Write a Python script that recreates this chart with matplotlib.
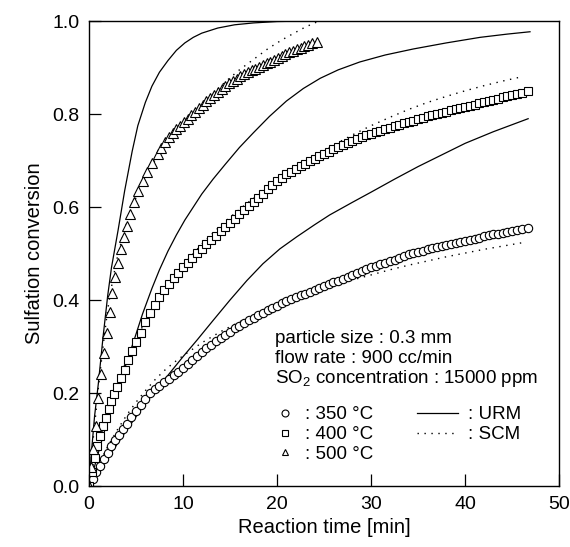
import matplotlib
matplotlib.use("Agg")
from matplotlib import pyplot as plt
from matplotlib.lines import Line2D

plt.rcParams['font.family'] = ['Liberation Sans', 'DejaVu Sans']
plt.rcParams['mathtext.fontset'] = 'custom'
plt.rcParams['mathtext.rm'] = 'Liberation Sans'

t_350 = [0, 0.4, 0.8, 1.2, 1.6, 2.0, 2.4, 2.8, 3.2, 3.6, 4.0, 4.5, 5.0, 5.5, 6.0, 6.5,
         7.0, 7.5, 8.0, 8.5, 9.0, 9.5, 10.0, 10.5, 11.0, 11.5, 12.0, 12.5, 13.0, 13.5,
         14.0, 14.5, 15.0, 15.5, 16.0, 16.5, 17.0, 17.5, 18.0, 18.5, 19.0, 19.5, 20.0,
         20.5, 21.0, 21.5, 22.0, 22.5, 23.0, 23.5, 24.0, 24.5, 25.0, 25.5, 26.0, 26.5,
         27.0, 27.5, 28.0, 28.5, 29.0, 29.5, 30.0, 30.5, 31.0, 31.5, 32.0, 32.5, 33.0,
         33.5, 34.0, 34.5, 35.0, 35.5, 36.0, 36.5, 37.0, 37.5, 38.0, 38.5, 39.0, 39.5,
         40.0, 40.5, 41.0, 41.5, 42.0, 42.5, 43.0, 43.5, 44.0, 44.5, 45.0, 45.5, 46.0,
         46.7]
x_350 = [0, 0.015, 0.03, 0.044, 0.058, 0.071, 0.085, 0.098, 0.11, 0.122, 0.134, 0.148,
         0.162, 0.175, 0.188, 0.2, 0.208, 0.216, 0.224, 0.231, 0.239, 0.246, 0.254, 0.263,
         0.272, 0.280, 0.288, 0.296, 0.303, 0.311, 0.318, 0.325, 0.332, 0.339, 0.345,
         0.351, 0.357, 0.362, 0.368, 0.373, 0.378, 0.383, 0.388, 0.393, 0.398, 0.402,
         0.406, 0.410, 0.414, 0.418, 0.422, 0.426, 0.430, 0.434, 0.438, 0.442, 0.446,
         0.450, 0.454, 0.458, 0.462, 0.466, 0.470, 0.473, 0.477, 0.480, 0.484, 0.487,
         0.491, 0.494, 0.498, 0.501, 0.504, 0.506, 0.509, 0.511, 0.514, 0.516, 0.519,
         0.521, 0.523, 0.525, 0.528, 0.530, 0.532, 0.534, 0.537, 0.539, 0.541, 0.543,
         0.545, 0.547, 0.549, 0.550, 0.552, 0.555]

t_400 = [0, 0.3, 0.6, 0.9, 1.2, 1.5, 1.8, 2.1, 2.4, 2.7, 3.0, 3.4, 3.8, 4.2, 4.6, 5.0,
         5.5, 6.0, 6.5, 7.0, 7.5, 8.0, 8.5, 9.0, 9.5, 10.0, 10.5, 11.0, 11.5, 12.0, 12.5,
         13.0, 13.5, 14.0, 14.5, 15.0, 15.5, 16.0, 16.5, 17.0, 17.5, 18.0, 18.5, 19.0,
         19.5, 20.0, 20.5, 21.0, 21.5, 22.0, 22.5, 23.0, 23.5, 24.0, 24.5, 25.0, 25.5,
         26.0, 26.5, 27.0, 27.5, 28.0, 28.5, 29.0, 29.5, 30.0, 30.5, 31.0, 31.5, 32.0,
         32.5, 33.0, 33.5, 34.0, 34.5, 35.0, 35.5, 36.0, 36.5, 37.0, 37.5, 38.0, 38.5,
         39.0, 39.5, 40.0, 40.5, 41.0, 41.5, 42.0, 42.5, 43.0, 43.5, 44.0, 44.5, 45.0,
         45.5, 46.0, 46.7]
x_400 = [0, 0.03, 0.06, 0.085, 0.108, 0.128, 0.147, 0.165, 0.182, 0.198, 0.213, 0.232,
         0.25, 0.27, 0.29, 0.31, 0.33, 0.352, 0.372, 0.39, 0.407, 0.422, 0.435, 0.447,
         0.459, 0.470, 0.480, 0.491, 0.501, 0.510, 0.520, 0.529, 0.538, 0.548, 0.557,
         0.566, 0.575, 0.585, 0.594, 0.602, 0.611, 0.620, 0.629, 0.638, 0.647, 0.655,
         0.663, 0.670, 0.676, 0.682, 0.688, 0.693, 0.699, 0.704, 0.709, 0.714, 0.719,
         0.724, 0.729, 0.733, 0.738, 0.742, 0.746, 0.750, 0.754, 0.757, 0.761, 0.764,
         0.768, 0.771, 0.774, 0.777, 0.780, 0.783, 0.786, 0.789, 0.792, 0.795, 0.798,
         0.800, 0.803, 0.805, 0.808, 0.810, 0.813, 0.815, 0.818, 0.820, 0.823, 0.825,
         0.828, 0.830, 0.833, 0.836, 0.838, 0.841, 0.843, 0.846, 0.850]

t_500 = [0, 0.2, 0.4, 0.7, 1.0, 1.3, 1.6, 1.9, 2.2, 2.5, 2.8, 3.1, 3.4, 3.7, 4.0, 4.4,
         4.8, 5.2, 5.7, 6.2, 6.7, 7.3, 7.7, 8.1, 8.5, 8.9, 9.3, 9.7, 10.1, 10.5, 10.9,
         11.3, 11.7, 12.1, 12.5, 12.9, 13.3, 13.7, 14.1, 14.5, 14.9, 15.3, 15.7, 16.1,
         16.5, 16.9, 17.3, 17.7, 18.1, 18.5, 18.9, 19.3, 19.7, 20.1, 20.5, 20.9, 21.3,
         21.7, 22.1, 22.5, 22.9, 23.3, 23.7, 24.2]
x_500 = [0, 0.04, 0.08, 0.13, 0.19, 0.24, 0.285, 0.33, 0.375, 0.415, 0.45, 0.48, 0.51,
         0.535, 0.56, 0.585, 0.61, 0.635, 0.655, 0.675, 0.695, 0.715, 0.727, 0.739, 0.750,
         0.759, 0.767, 0.774, 0.782, 0.789, 0.797, 0.804, 0.812, 0.819, 0.827, 0.834,
         0.841, 0.848, 0.854, 0.860, 0.866, 0.871, 0.876, 0.881, 0.886, 0.890, 0.894,
         0.897, 0.901, 0.905, 0.909, 0.913, 0.917, 0.921, 0.925, 0.929, 0.933, 0.936,
         0.940, 0.943, 0.946, 0.949, 0.952, 0.955]

# URM model curves
urm_t_350 = [0, 2, 4, 6, 8.6, 10, 11.5, 13.2, 15, 16.8, 18.5, 20.3, 22.1, 24, 25.6, 28,
             30, 32.5, 35, 37.5, 40, 43, 46.7]
urm_x_350 = [0, 0.06, 0.12, 0.178, 0.243, 0.278, 0.314, 0.356, 0.40, 0.442, 0.478, 0.51,
             0.536, 0.562, 0.583, 0.61, 0.632, 0.66, 0.687, 0.712, 0.737, 0.762, 0.79]
urm_t_400 = [0, 0.5, 1.4, 2.2, 3.1, 4.0, 4.9, 5.7, 6.7, 7.5, 8.4, 9.3, 10.2, 11.1, 12.0,
             13.2, 14.5, 16.0, 17.5, 19.2, 21.0, 22.8, 24.6, 26.5, 28.8, 31.5, 34.5, 38,
             41.6, 44.5, 46.9]
urm_x_400 = [0, 0.035, 0.10, 0.155, 0.21, 0.265, 0.32, 0.37, 0.425, 0.465, 0.505, 0.54,
             0.572, 0.60, 0.628, 0.66, 0.692, 0.728, 0.76, 0.795, 0.828, 0.855, 0.877,
             0.895, 0.912, 0.927, 0.94, 0.953, 0.965, 0.972, 0.977]
urm_t_500 = [0, 0.3, 0.6, 1.0, 1.5, 2.0, 2.4, 3.1, 3.8, 4.6, 5.2, 6.0, 6.7, 7.5, 8.4, 9.3,
             10.2, 11.1, 12.0, 13.7, 15.5, 17.5, 20, 23, 47]
urm_x_500 = [0, 0.08, 0.15, 0.22, 0.32, 0.41, 0.47, 0.55, 0.635, 0.72, 0.775, 0.825, 0.86,
             0.89, 0.915, 0.937, 0.953, 0.965, 0.974, 0.985, 0.992, 0.996, 0.999, 1.0, 1.0]

# SCM model curves
scm_t_350 = [0, 0.5, 1, 2, 3, 4, 5, 6, 7, 8, 9, 10, 12, 14, 16, 18, 20, 22, 24, 26, 28,
             30, 32, 34, 36, 38, 40, 42, 44, 46]
scm_x_350 = [0, 0.025, 0.045, 0.085, 0.12, 0.152, 0.18, 0.205, 0.228, 0.248, 0.265, 0.28,
             0.308, 0.332, 0.353, 0.372, 0.389, 0.404, 0.418, 0.431, 0.443, 0.454, 0.465,
             0.475, 0.484, 0.493, 0.501, 0.509, 0.516, 0.523]
scm_t_400 = [0, 0.5, 1, 1.5, 2, 3, 4, 5, 6, 7, 8, 10, 12, 14, 16, 18, 20, 22, 24, 26, 28,
             30, 32, 34, 36, 38, 40, 42, 44, 46]
scm_x_400 = [0, 0.05, 0.09, 0.125, 0.16, 0.22, 0.27, 0.315, 0.355, 0.39, 0.42, 0.475,
             0.52, 0.56, 0.595, 0.627, 0.657, 0.685, 0.71, 0.733, 0.755, 0.775, 0.793,
             0.81, 0.825, 0.838, 0.85, 0.861, 0.871, 0.88]
scm_t_500 = [0, 0.3, 0.6, 1.0, 1.5, 2.0, 2.5, 3.0, 3.5, 4.0, 5, 6, 7, 8, 9, 10, 11, 12, 13,
             14, 15, 16, 17, 18, 19, 20, 21, 22, 23, 24, 24.5]
scm_x_500 = [0, 0.07, 0.13, 0.21, 0.3, 0.38, 0.44, 0.49, 0.53, 0.565, 0.62, 0.665, 0.70,
             0.73, 0.755, 0.78, 0.80, 0.82, 0.84, 0.86, 0.878, 0.895, 0.91, 0.925,
             0.94, 0.953, 0.965, 0.976, 0.987, 0.996, 1.0]

fig = plt.figure(figsize=(5.7, 5.47), dpi=100)
ax = fig.add_axes([0.156, 0.1115, 0.825, 0.850])

lw = 0.9
dot = (0, (1, 4))
for tt, xx in [(urm_t_350, urm_x_350), (urm_t_400, urm_x_400), (urm_t_500, urm_x_500)]:
    ax.plot(tt, xx, c='black', lw=lw)
for tt, xx in [(scm_t_350, scm_x_350), (scm_t_400, scm_x_400), (scm_t_500, scm_x_500)]:
    ax.plot(tt, xx, c='black', lw=1.0, ls=dot)

mk = dict(ls='none', mfc='white', mec='black', mew=0.8)
ax.plot(t_350, x_350, marker='o', ms=6.0, **mk)
ax.plot(t_400, x_400, marker='s', ms=5.5, **mk)
ax.plot(t_500, x_500, marker='^', ms=6.5, **mk)

ax.set_xlim(0, 50)
ax.set_ylim(0, 1.0)
ax.set_xticks([0, 10, 20, 30, 40, 50])
ax.set_yticks([0.0, 0.2, 0.4, 0.6, 0.8, 1.0])
ax.set_yticklabels(['0.0', '0.2', '0.4', '0.6', '0.8', '1.0'])
ax.tick_params(axis='both', direction='in', length=8.5, width=0.9, labelsize=14, pad=7)
for s in ax.spines.values():
    s.set_linewidth(1.0)

ax.set_xlabel("Reaction time [min]", fontsize=14.5, labelpad=4)
ax.set_ylabel("Sulfation conversion", fontsize=14.5, labelpad=6)

# Conditions text
ax.text(19.8, 0.318, "particle size : 0.3 mm", fontsize=13.5, va='center')
ax.text(19.8, 0.275, "flow rate : 900 cc/min", fontsize=13.5, va='center')
ax.text(19.8, 0.232, r"SO$_\mathregular{2}$ concentration : 15000 ppm", fontsize=13.5,
        va='center')

# Legends
h1 = [Line2D([], [], marker='o', ms=5, **mk),
      Line2D([], [], marker='s', ms=4.5, **mk),
      Line2D([], [], marker='^', ms=5, **mk)]
leg1 = ax.legend(h1, [": 350 °C", ": 400 °C", ": 500 °C"], loc='upper left',
                 bbox_to_anchor=(20.0, 0.172), bbox_transform=ax.transData,
                 frameon=False, fontsize=13.5, handlelength=0.8, handletextpad=0.7,
                 labelspacing=0.15, borderpad=0, borderaxespad=0)
ax.add_artist(leg1)
h2 = [Line2D([], [], c='black', lw=lw),
      Line2D([], [], c='black', lw=1.0, ls=dot)]
ax.legend(h2, [": URM", ": SCM"], loc='upper left',
          bbox_to_anchor=(34.9, 0.172), bbox_transform=ax.transData,
          frameon=False, fontsize=13.5, handlelength=2.2, handletextpad=0.5,
          labelspacing=0.15, borderpad=0, borderaxespad=0)

plt.savefig('out.png', dpi=100)
